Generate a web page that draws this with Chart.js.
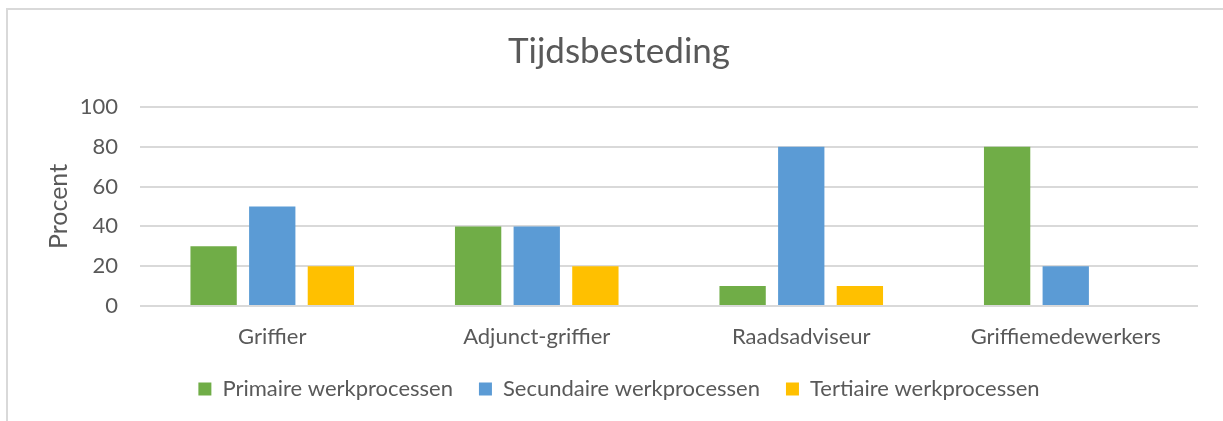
<!DOCTYPE html>
<html>
<head>
<meta charset="utf-8">
<script src="https://cdn.jsdelivr.net/npm/chart.js@4"></script>
<style>
  html, body { margin: 0; padding: 0; background: #fff; }
  #wrap { position: relative; width: 1223px; height: 421px; overflow: hidden; }
  #frame { position: absolute; left: 6px; top: 8px; width: 1300px; height: 500px;
           border-top: 2px solid #d9d9d9; border-left: 2px solid #d9d9d9; }
  canvas { position: absolute; left: 0; top: 0; }
</style>
</head>
<body>
<div id="wrap">
  <div id="frame"></div>
  <canvas id="barChartCanvas" width="1223" height="421"></canvas>
</div>
<script>
// categories and series
const categories = ["Griffier", "Adjunct-griffier", "Raadsadviseur", "Griffiemedewerkers"];
const primaire = [30, 40, 10, 80];
const secundaire = [50, 40, 80, 20];
const tertiaire = [20, 20, 10, 0];
const seriesNames = ["Primaire werkprocessen", "Secundaire werkprocessen", "Tertiaire werkprocessen"];

const textColor = "#595959";
const fontFamily = "Lato, 'Open Sans', sans-serif";

function drawChart() {
  const ctx = document.getElementById("barChartCanvas").getContext("2d");
  new Chart(ctx, {
    type: "bar",
    data: {
      labels: categories,
      datasets: [
        { label: seriesNames[0], data: primaire, backgroundColor: "#70AD47" },
        { label: seriesNames[1], data: secundaire, backgroundColor: "#5B9BD5" },
        { label: seriesNames[2], data: tertiaire, backgroundColor: "#FFC000" },
      ],
    },
    options: {
      responsive: false,
      animation: false,
      categoryPercentage: 0.665,
      barPercentage: 0.79,
      layout: { padding: { left: 40, right: 25, top: 0, bottom: 11 } },
      plugins: {
        title: {
          display: true,
          text: "Tijdsbesteding",
          color: textColor,
          font: { family: fontFamily, size: 35, weight: "normal" },
          padding: { top: 31, bottom: 34 },
        },
        legend: {
          position: "bottom",
          labels: {
            color: textColor,
            font: { family: fontFamily, size: 22 },
            boxWidth: 13,
            boxHeight: 13,
            padding: 26,
          },
        },
        tooltip: { enabled: false },
      },
      scales: {
        x: {
          grid: { display: false },
          border: { display: false },
          ticks: { color: textColor, font: { family: fontFamily, size: 22 }, padding: 10 },
          afterFit: (scale) => { scale.height = 46; },
        },
        y: {
          min: 0,
          max: 100,
          ticks: { stepSize: 20, color: textColor, font: { family: fontFamily, size: 22 }, padding: 22 },
          grid: { color: "#d9d9d9", lineWidth: 2, drawTicks: false },
          border: { display: false },
          title: {
            display: true,
            text: "Procent",
            color: textColor,
            font: { family: fontFamily, size: 25 },
          },
          afterFit: (scale) => { scale.width = 100; },
        },
      },
    },
  });
}

document.addEventListener("DOMContentLoaded", drawChart);
</script>
</body>
</html>
